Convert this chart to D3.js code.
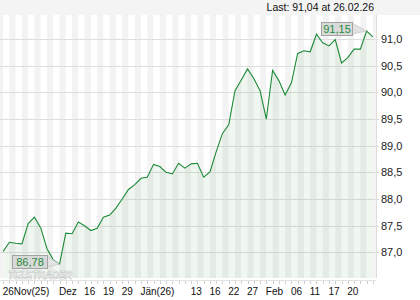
<!DOCTYPE html>
<html>
<head>
<meta charset="utf-8">
<script src="https://cdn.jsdelivr.net/npm/d3@7"></script>
<style>
  body { margin: 0; background: #fff; }
  svg { display: block; font-family: "Liberation Sans", Arial, sans-serif; }
</style>
</head>
<body>
<svg width="420" height="300"></svg>
<script>
// daily closes, 26 Nov 2025 .. 26 Feb 2026
const closes = [
  87.02, 87.19, 87.17, 87.16, 87.54, 87.66, 87.46, 87.07, 86.86, 86.78,
  87.36, 87.35, 87.57, 87.50, 87.41, 87.45, 87.66, 87.70, 87.83, 88.00,
  88.18, 88.27, 88.39, 88.41, 88.65, 88.61, 88.50, 88.47, 88.67, 88.58,
  88.66, 88.67, 88.41, 88.51, 88.89, 89.23, 89.39, 90.03, 90.23, 90.44,
  90.26, 90.03, 89.50, 90.41, 90.22, 89.95, 90.18, 90.73, 90.78, 90.76,
  91.09, 90.93, 90.87, 90.99, 90.55, 90.65, 90.81, 90.81, 91.15, 91.04
];
const tickIdx    = [0, 9, 13, 16, 19, 22, 30, 33, 36, 39, 42, 46, 49, 52, 55];
const tickLabels = ['26Nov(25)', 'Dez', '16', '19', '29', 'Jän(26)', '13', '16', '22', '27', 'Feb', '06', '11', '17', '20'];
const yTicks = [87.0, 87.5, 88.0, 88.5, 89.0, 89.5, 90.0, 90.5, 91.0];
const lastText = 'Last: 91,04 at 26.02.26';

const svg = d3.select('svg');
const plotW = 376, plotTop = 15, plotBottom = 278;

const x = d3.scalePoint().domain(d3.range(closes.length)).range([0, plotW]).padding(0.5);
const y = d3.scaleLinear().domain([86.52, 91.45]).range([plotBottom, plotTop]);
const comma = v => d3.format('.1f')(v).replace('.', ',');
const comma2 = v => d3.format('.2f')(v).replace('.', ',');

// header strip
svg.append('rect').attr('width', 420).attr('height', plotTop).attr('fill', '#f4f4f4');
svg.append('text').attr('x', plotW - 2).attr('y', 11).attr('text-anchor', 'end')
  .attr('font-size', 10.5).attr('fill', '#111').text(lastText);

// day stripes, edges on the points
const edges = [0].concat(closes.map((d, i) => x(i)), [plotW]);
svg.append('g').selectAll('rect').data(d3.range(edges.length - 1)).join('rect')
  .attr('x', j => edges[j]).attr('width', j => edges[j + 1] - edges[j])
  .attr('y', plotTop).attr('height', plotBottom - plotTop)
  .attr('fill', j => j % 2 === 0 ? '#f3f3f3' : '#ffffff');

// horizontal grid + right labels
svg.append('g').selectAll('line').data(yTicks).join('line')
  .attr('x1', 0).attr('x2', plotW + 3)
  .attr('y1', d => Math.round(y(d)) + 0.5).attr('y2', d => Math.round(y(d)) + 0.5)
  .attr('stroke', '#dedede');
svg.append('g').selectAll('text').data(yTicks).join('text')
  .attr('x', 381).attr('y', d => y(d) + 4)
  .attr('font-size', 11).attr('fill', '#222').text(comma);

svg.append('line').attr('x1', plotW + 0.5).attr('x2', plotW + 0.5)
  .attr('y1', plotTop).attr('y2', plotBottom).attr('stroke', '#dedede');

// area + line
const area = d3.area().x((d, i) => x(i)).y0(plotBottom).y1(d => y(d));
const line = d3.line().x((d, i) => x(i)).y(d => y(d));
svg.append('path').datum(closes).attr('d', area).attr('fill', '#2e8b3e').attr('fill-opacity', 0.07);
svg.append('path').datum(closes).attr('d', line)
  .attr('fill', 'none').attr('stroke', '#1d8a38').attr('stroke-width', 1.1);

// x axis
const xAxis = svg.append('g').attr('transform', `translate(0,${plotBottom + 2})`);
xAxis.append('line').attr('x1', 0).attr('x2', plotW).attr('y1', 0.5).attr('y2', 0.5).attr('stroke', '#e2e2e2');
xAxis.selectAll('line.tk').data(closes).join('line').attr('class', 'tk')
  .attr('x1', (d, i) => Math.round(x(i)) + 0.5).attr('x2', (d, i) => Math.round(x(i)) + 0.5)
  .attr('y1', 1).attr('y2', 4).attr('stroke', '#cfcfcf');
xAxis.selectAll('text').data(tickIdx).join('text')
  .attr('x', d => x(d) - 0.5).attr('y', 15)
  .attr('font-size', 10).attr('fill', '#111')
  .text((d, k) => tickLabels[k]);

// watermark
svg.append('text').attr('x', 8).attr('y', 278.5)
  .attr('font-size', 11).attr('font-weight', 'bold').attr('font-style', 'italic')
  .attr('textLength', 64).attr('lengthAdjust', 'spacingAndGlyphs')
  .attr('fill', '#ffffff').attr('fill-opacity', 0.7).attr('stroke', '#bcbcbc').attr('stroke-width', 0.6)
  .text('TELETRADER');

// min / max flags
function flag(i, bx, by, bw) {
  const px = x(i), py = y(closes[i]);
  const g = svg.append('g');
  g.append('path')
    .attr('d', `M${bx + bw},${by + 1}L${px},${py}L${bx + bw},${by + 12}Z`)
    .attr('fill', '#e2e2e2').attr('stroke', '#bdbdbd').attr('stroke-width', 0.6);
  g.append('rect').attr('x', bx + 0.5).attr('y', by + 0.5).attr('width', bw).attr('height', 13)
    .attr('fill', '#d9d9d9').attr('stroke', '#a3a3a3');
  g.append('text').attr('x', bx + bw / 2 + 0.5).attr('y', by + 11)
    .attr('text-anchor', 'middle')
    .attr('font-size', 11).attr('fill', '#1f8a3a').text(comma2(closes[i]));
}
const iMax = d3.maxIndex(closes), iMin = d3.minIndex(closes);
flag(iMax, 321, 22, 31);
flag(iMin, 12, 255, 35);
</script>
</body>
</html>
